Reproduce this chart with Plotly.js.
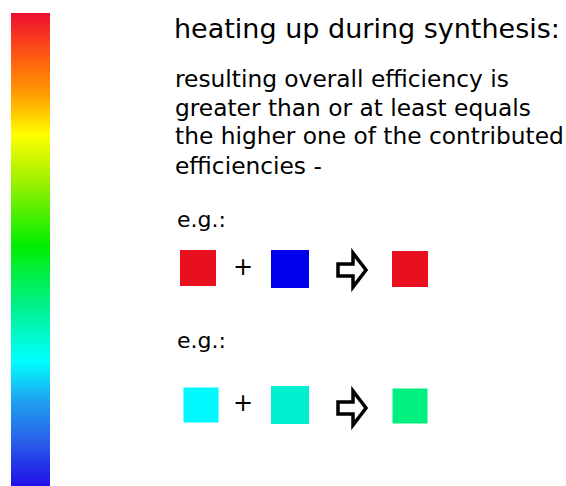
<!DOCTYPE html>
<html><head><meta charset="utf-8">
<script src="https://cdn.plot.ly/plotly-3.0.1.min.js"></script>
<style>html,body{margin:0;padding:0;background:#fff}</style>
</head><body><div id="chart" style="width:566px;height:486px"></div>
<script>
// colour bar levels (bottom = 0, top = 1)
const levels = [0.0,0.025,0.05,0.075,0.1,0.125,0.15,0.175,0.2,0.225,0.25,0.275,0.3,0.325,0.35,0.375,0.4,0.425,0.45,0.475,0.5,0.525,0.55,0.575,0.6,0.625,0.65,0.675,0.7,0.725,0.75,0.775,0.8,0.825,0.85,0.875,0.9,0.925,0.95,0.975,1.0];
const scaleStops = [0, 0.097, 0.18, 0.266, 0.393, 0.51, 0.647, 0.742, 0.827, 0.9, 1];
const scaleColors = ['#2010e8','#2860e8','#20a0f0','#00ffff','#00f080','#00ee00','#a0f000','#ffff00','#ffa000','#ff6010','#ee1030'];

// example squares (pixel-like plotting coordinates)
const squareX = [198, 290, 410, 201, 290, 410];
const squareY = [268, 269, 269, 405, 405, 406];
const squareSize = [36, 38, 36, 35, 38, 35];
const squareColors = ['#e8101e', '#0000ee', '#e8101e', '#00f8ff', '#00f0d0', '#00f080'];
const plusX = [243, 243];
const plusY = [269, 405];
const arrowX = [352, 352];
const arrowY = [270, 408];

const titleText = 'heating up during synthesis:';
const bodyLines = ['resulting overall efficiency is', 'greater than or at least equals', 'the higher one of the contributed', 'efficiencies -'];
const bodyY = [78, 107, 135, 165];
const egText = 'e.g.:';
const egY = [219, 340];

const colorscale = scaleStops.map((s, i) => [s, scaleColors[i]]);

const traces = [
  {
    type: 'heatmap', x: [0, 1], y: levels.map((v, i) => i), z: levels.map(v => [v, v]),
    colorscale: colorscale, zmin: 0, zmax: 1, showscale: false, zsmooth: 'best',
    hoverinfo: 'skip', xaxis: 'x', yaxis: 'y'
  },
  {
    type: 'scatter', mode: 'markers', x: squareX, y: squareY,
    marker: { symbol: 'square', size: squareSize, color: squareColors, opacity: 1, line: { width: 0 } },
    opacity: 1, xaxis: 'x2', yaxis: 'y2', hoverinfo: 'skip'
  },
  {
    type: 'scatter', mode: 'text', x: plusX, y: plusY, text: plusX.map(() => '+'),
    textfont: { family: 'DejaVu Sans, sans-serif', size: 24, color: '#000' },
    xaxis: 'x2', yaxis: 'y2', hoverinfo: 'skip'
  }
];

// arrow shapes (hollow block arrow)
function arrowPath(cx, cy) {
  const pts = [[-14, -6], [1, -6], [1, -17], [14, 0], [1, 17], [1, 6], [-14, 6]];
  return 'M' + pts.map(p => (cx + p[0]) + ',' + (cy + p[1])).join(' L') + ' Z';
}
const shapes = arrowX.map((x, i) => ({
  type: 'path', xref: 'x2', yref: 'y2', path: arrowPath(x, arrowY[i]),
  line: { color: '#000', width: 3.5 }, fillcolor: '#fff'
}));

const font = 'DejaVu Sans, sans-serif';
const annotations = [
  { x: 172, y: 28, xref: 'x2', yref: 'y2', text: titleText, showarrow: false, xanchor: 'left', yanchor: 'middle', align: 'left', font: { family: font, size: 27, color: '#000' } }
].concat(bodyLines.map((t, i) => ({ x: 173, y: bodyY[i], xref: 'x2', yref: 'y2', text: t, showarrow: false, xanchor: 'left', yanchor: 'middle', align: 'left', font: { family: font, size: 23.3, color: '#000' } })))
 .concat(egY.map(y => ({ x: 175, y: y, xref: 'x2', yref: 'y2', text: egText, showarrow: false, xanchor: 'left', yanchor: 'middle', align: 'left', font: { family: font, size: 22, color: '#000' } })));

const layout = {
  width: 566, height: 486, margin: { l: 0, r: 0, t: 0, b: 0 },
  paper_bgcolor: '#fff', plot_bgcolor: 'rgba(0,0,0,0)', showlegend: false,
  xaxis: { domain: [11 / 566, 50 / 566], range: [0, 1], visible: false, fixedrange: true },
  yaxis: { domain: [0, 473 / 486], range: [0, levels.length - 1], visible: false, fixedrange: true },
  xaxis2: { domain: [0, 1], range: [0, 566], visible: false, anchor: 'y2' },
  yaxis2: { domain: [0, 1], range: [486, 0], visible: false, anchor: 'x2' },
  shapes: shapes, annotations: annotations
};

Plotly.newPlot('chart', traces, layout, { staticPlot: true, displayModeBar: false });
</script></body></html>
